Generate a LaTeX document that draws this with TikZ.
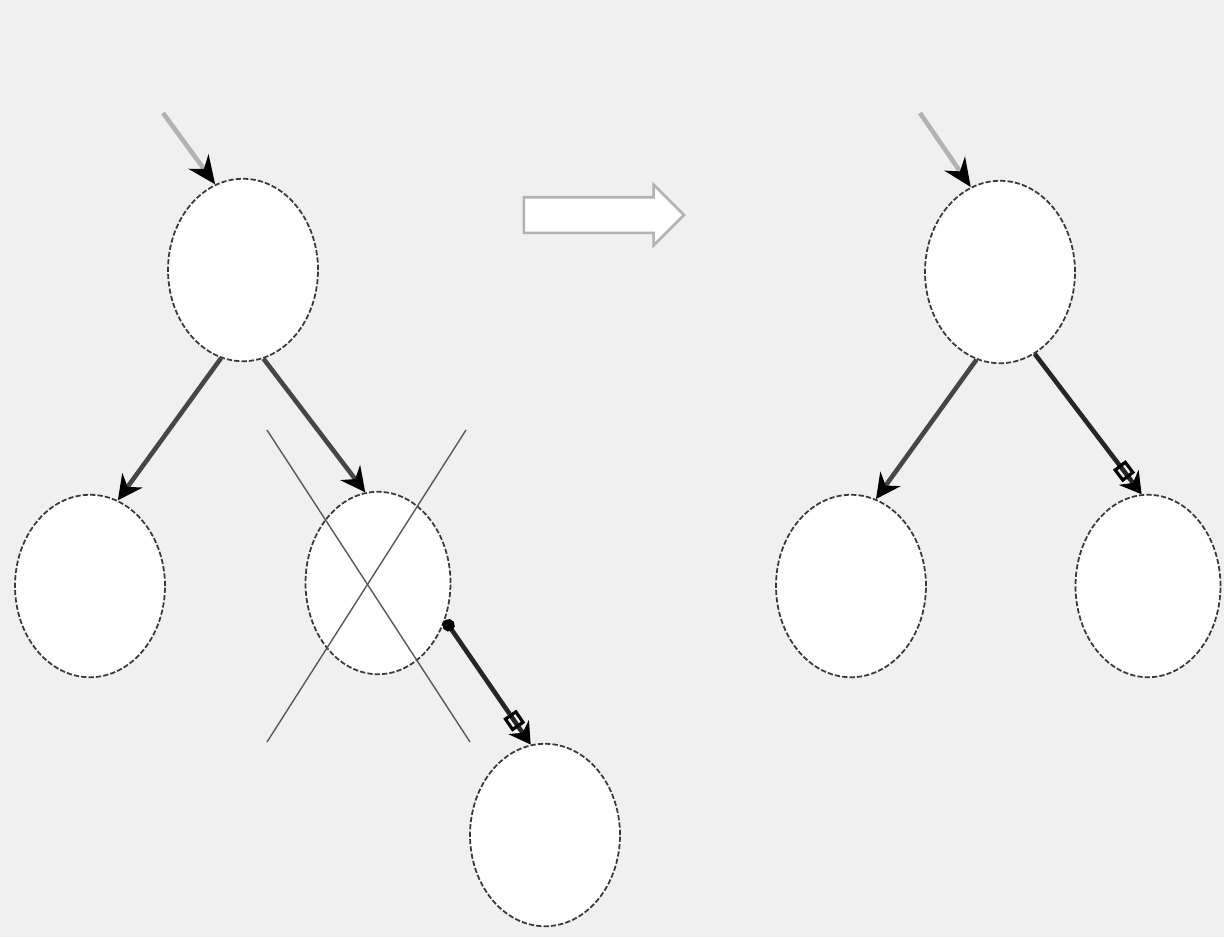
\documentclass[tikz,border=0pt]{standalone}
\usetikzlibrary{shapes.geometric,shapes.arrows,arrows.meta}

\begin{document}
\begin{tikzpicture}[x=0.02cm,y=-0.02cm,
    treenode/.style={ellipse, draw=gray!45!black, line width=1pt,
        dash pattern=on 3pt off 1.2pt, fill=white, inner sep=0pt,
        minimum width=3cm, minimum height=3.65cm},
    link/.style={draw=gray!55!black, line width=2.6pt,
        -{Stealth[length=14pt,width=14pt,black]}},
    boxlink/.style={draw=gray!30!black, line width=2.6pt,
        -{Square[open,length=9pt,width=9pt,black,line width=1.8pt]Stealth[length=12pt,width=14pt,black]}},
    inlink/.style={draw=gray!60, line width=2.6pt,
        -{Stealth[length=16pt,width=14pt,black]}},
    crossline/.style={draw=gray!70!black, line width=0.8pt}]
  \useasboundingbox (0,0) rectangle (1224,937);
  \fill[gray!12] (0,0) rectangle (1224,937);

  \node[treenode] (lroot) at (243,270) {};
  \node[treenode] (lleft) at (90,586) {};
  \node[treenode, minimum width=2.9cm] (lgone) at (378,583) {};
  \node[treenode] (lsub) at (545,835) {};

  \node[treenode] (rroot) at (1000,272) {};
  \node[treenode] (rleft) at (851,586) {};
  \node[treenode, minimum width=2.9cm] (rright) at (1148,586) {};

  \coordinate (lin) at (163,113);
  \coordinate (rin) at (920,113);

  \draw[inlink] (lin) -- (lroot.108);
  \draw[inlink] (rin) -- (rroot.109);

  \draw[link] (lroot.256) -- (lleft.72);
  \draw[link] (lroot.283) -- (lgone.98);
  \draw[boxlink, {Circle[length=7pt,black]}-{Square[open,length=9pt,width=9pt,black,line width=1.8pt]Stealth[length=12pt,width=14pt,black]}]
    (lgone.331) -- (lsub.99);

  \draw[link] (rroot.255) -- (rleft.74);
  \draw[boxlink] (rroot.293) -- (rright.94);

  \coordinate (xa) at (267,430);
  \coordinate (xb) at (470,742);
  \coordinate (xc) at (466,430);
  \coordinate (xd) at (267,742);
  \draw[crossline] (xa) -- (xb);
  \draw[crossline] (xc) -- (xd);

  \node[single arrow, draw=gray!60, line width=1.5pt, fill=white,
        inner sep=0pt, minimum height=3.2cm, single arrow head extend=0.25cm]
        (step) at (595,215) {\rule{0pt}{0.66cm}};
\end{tikzpicture}
\end{document}
